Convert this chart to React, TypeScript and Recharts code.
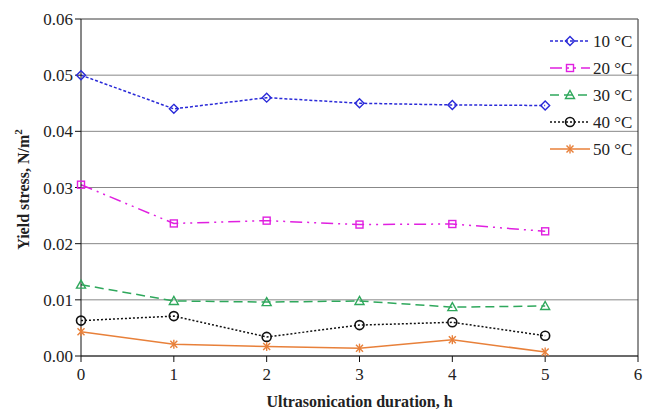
import { LineChart, Line, XAxis, YAxis, CartesianGrid, ReferenceLine } from 'recharts'

// yield stress (N/m²) vs. ultrasonication time at five temperatures
const hours = [0, 1, 2, 3, 4, 5]
const t10 = [0.0500, 0.0440, 0.0460, 0.0450, 0.0447, 0.0446]
const t20 = [0.0305, 0.0236, 0.0241, 0.0234, 0.0235, 0.0222]
const t30 = [0.0127, 0.0098, 0.0096, 0.0098, 0.0087, 0.0089]
const t40 = [0.0063, 0.0071, 0.0034, 0.0055, 0.0060, 0.0036]
const t50 = [0.0043, 0.0021, 0.0017, 0.0014, 0.0029, 0.0007]

const yTicks = [0, 0.01, 0.02, 0.03, 0.04, 0.05, 0.06]
const xTicks = [0, 1, 2, 3, 4, 5, 6]

const data = hours.map((h, i) => ({ h, t10: t10[i], t20: t20[i], t30: t30[i], t40: t40[i], t50: t50[i] }))

const FONT = "'Liberation Serif', 'Times New Roman', Times, 'DejaVu Serif', serif"

type MarkerKind = 'diamond' | 'square' | 'triangle' | 'circle' | 'star'

function Marker({ kind, cx, cy, color }: { kind: MarkerKind; cx: number; cy: number; color: string }) {
  const p = { stroke: color, strokeWidth: 1.4, fill: 'none' }
  if (kind === 'diamond') return <polygon {...p} points={`${cx},${cy - 4.5} ${cx + 4.5},${cy} ${cx},${cy + 4.5} ${cx - 4.5},${cy}`} />
  if (kind === 'square') return <rect {...p} x={cx - 3.5} y={cy - 3.5} width={7} height={7} />
  if (kind === 'triangle') return <polygon {...p} points={`${cx},${cy - 4.5} ${cx + 4.5},${cy + 3.5} ${cx - 4.5},${cy + 3.5}`} />
  if (kind === 'circle') return <circle {...p} cx={cx} cy={cy} r={4.5} strokeWidth={1.6} />
  return (
    <g stroke={color} strokeWidth={1.4}>
      <line x1={cx - 3.5} y1={cy - 3.5} x2={cx + 3.5} y2={cy + 3.5} />
      <line x1={cx - 3.5} y1={cy + 3.5} x2={cx + 3.5} y2={cy - 3.5} />
      <line x1={cx} y1={cy - 4.5} x2={cx} y2={cy + 4.5} />
    </g>
  )
}

const SERIES: { key: string; name: string; color: string; dash?: string; kind: MarkerKind }[] = [
  { key: 't10', name: '10 °C', color: '#2a2ad8', dash: '3 2', kind: 'diamond' },
  { key: 't20', name: '20 °C', color: '#e020e0', dash: '12 5 2 5 2 5', kind: 'square' },
  { key: 't30', name: '30 °C', color: '#2fa85c', dash: '9 5', kind: 'triangle' },
  { key: 't40', name: '40 °C', color: '#111111', dash: '2 2', kind: 'circle' },
  { key: 't50', name: '50 °C', color: '#e8803a', kind: 'star' },
]

const tickStyle = { fontFamily: FONT, fontSize: 17, fontWeight: 400, fill: '#222' }

function LegendBox() {
  return (
    <svg width={98} height={140} style={{ position: 'absolute', left: 548, top: 28 }}>
      {SERIES.map((s, i) => {
        const y = 13 + i * 27
        return (
          <g key={s.key}>
            <line x1={2} x2={42} y1={y} y2={y} stroke={s.color} strokeWidth={1.6} strokeDasharray={s.dash} />
            <Marker kind={s.kind} cx={22} cy={y} color={s.color} />
            <text x={45} y={y + 6} style={{ fontFamily: FONT, fontSize: 17, fontWeight: 400 }} fill="#222">{s.name}</text>
          </g>
        )
      })}
    </svg>
  )
}

function YTitle({ viewBox }: any) {
  const cy = viewBox.y + viewBox.height / 2 + 2
  return (
    <text x={0} y={0} transform={`translate(29, ${cy}) rotate(-90)`} textAnchor="middle"
      style={{ fontFamily: FONT, fontSize: 16, fontWeight: 'bold' }} fill="#222">
      Yield stress, N/m<tspan fontSize={11} dy={-7}>2</tspan>
    </text>
  )
}

export default function App() {
  return (
    <div style={{ position: 'absolute', left: 0, top: 0, width: 646, height: 410, background: '#fff', fontFamily: FONT }}>
      <LineChart width={646} height={410} data={data} margin={{ top: 19, right: 8, bottom: 0, left: 0 }}
        style={{ fontFamily: FONT }}>
        <CartesianGrid vertical={false} stroke="#888" strokeWidth={1} />
        <XAxis dataKey="h" type="number" domain={[0, 6]} ticks={xTicks} height={54}
          stroke="#111" tickSize={6} tickMargin={6} tick={tickStyle}
          label={{ value: 'Ultrasonication duration, h', position: 'insideBottom', offset: 3,
            style: { fontFamily: FONT, fontSize: 16, fontWeight: 'bold', fill: '#222' } }} />
        <YAxis type="number" domain={[0, 0.06]} ticks={yTicks} width={81} stroke="#111" tickSize={6}
          tickFormatter={(v: number) => v.toFixed(2)}
          tick={tickStyle}
          label={<YTitle />} />
        <ReferenceLine x={6} stroke="#222" />
        <ReferenceLine y={0.06} stroke="#777" />
        {SERIES.map(s => (
          <Line key={s.key} dataKey={s.key} name={s.name} type="linear" stroke={s.color} strokeWidth={1.5}
            strokeDasharray={s.dash} isAnimationActive={false}
            dot={(p: any) => <Marker key={`${s.key}-${p.index}`} kind={s.kind} cx={p.cx} cy={p.cy} color={s.color} />} />
        ))}
      </LineChart>
      <LegendBox />
    </div>
  )
}
